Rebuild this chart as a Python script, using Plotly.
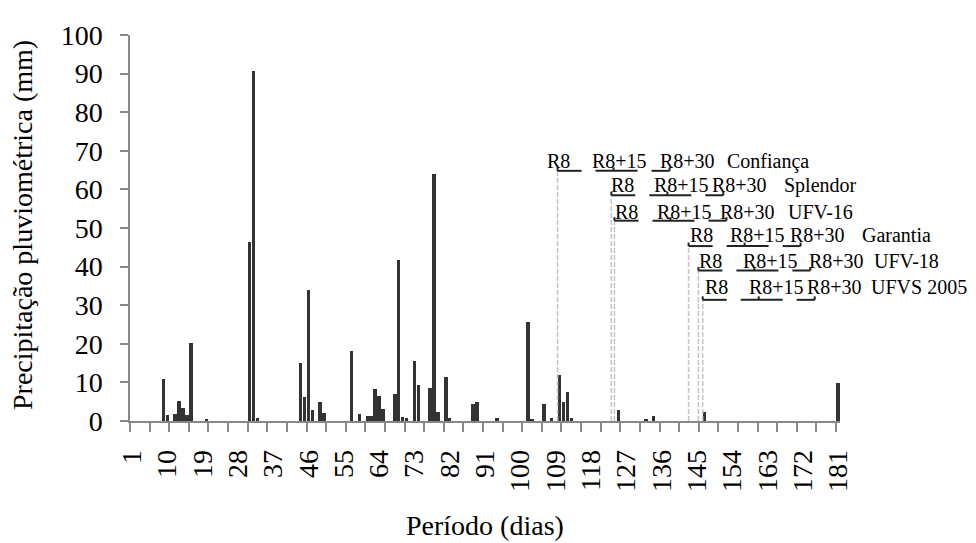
import plotly.graph_objects as go

# ---------------- data ----------------
rain_day = [9, 10, 12, 13, 14, 15, 16, 20, 31, 32, 33, 44, 45, 46, 47, 49, 50,
            57, 59, 61, 62, 63, 64, 65, 68, 69, 70, 71, 73, 74, 77, 78, 79, 81, 82,
            88, 89, 94, 102, 103, 106, 108, 110, 111, 112, 113, 125, 132, 134, 147, 181]
rain_mm = [11.0, 1.6, 1.7, 5.3, 3.4, 1.5, 20.3, 0.4, 46.3, 90.6, 0.9, 14.9, 6.3, 34.0, 2.8, 5.0, 2.2,
           18.2, 1.7, 1.4, 1.4, 8.2, 6.6, 3.2, 7.0, 41.6, 1.0, 0.7, 15.6, 9.2, 8.6, 64.1, 2.4, 11.4, 0.9,
           4.5, 4.8, 0.7, 25.6, 0.3, 4.4, 0.7, 12.0, 5.0, 7.6, 0.7, 2.8, 0.6, 1.3, 2.3, 9.9]

tick_days = [1, 10, 19, 28, 37, 46, 55, 64, 73, 82, 91, 100, 109, 118, 127, 136, 145, 154, 163, 172, 181]
tick_labels = ["1", "10", "19", "28", "37", "46", "55", "64", "73", "82", "91", "100",
               "109", "118", "127", "136", "145", "154", "163", "172", "181"]

cultivars = ["Confiança", "Splendor", "UFV-16", "Garantia", "UFV-18", "UFVS 2005"]
r8_day = [109.5, 123.2, 124.0, 142.9, 145.4, 146.5]
stage_labels = ["R8", "R8+15", "R8+30"]

# ---------------- layout constants ----------------
# the page body adds an 8px margin, so the figure is drawn 8px in from the corner
BODY = 8
W, H = 976, 543
PLOT_L, PLOT_R, PLOT_T, PLOT_B = 130, 840, 26, 421   # target plot box in the screenshot
ML, MT = PLOT_L - BODY, PLOT_T - BODY
MR, MB = W - (PLOT_R - BODY), H - (PLOT_B - BODY)
X_RANGE = [0.5, 181.5]
Y_RANGE = [0, 100]
PX_DAY = (PLOT_R - PLOT_L) / (X_RANGE[1] - X_RANGE[0])
PX_MM = (PLOT_B - PLOT_T) / (Y_RANGE[1] - Y_RANGE[0])
FONT = "Liberation Serif"


def y_of_px(py):
    # py: pixel row in the screenshot
    return (PLOT_B - py) / PX_MM


def dx(px):
    return px / PX_DAY


def xpaper(day):
    return (day - X_RANGE[0]) / (X_RANGE[1] - X_RANGE[0])


def ypaper(val):
    return (val - Y_RANGE[0]) / (Y_RANGE[1] - Y_RANGE[0])


# per-row layout (pixels): text centre y, bracket y, text x offsets from R8 line
row_text_py = [155, 180, 207, 231, 257, 284]
row_brk_py = [165, 190, 216, 242, 267, 297]
row_text_off = [[-13, 32, 100, 167], [-2, 41, 99, 171], [-1, 41, 104, 172],
                [-1, 39, 99, 171], [-1, 43, 109, 174], [0, 44, 102, 166]]
brk_segments = [(0, 24), (38, 80), (94, 112)]
brk_ticks = [0, 56, 112]

fig = go.Figure()
fig.add_trace(go.Bar(x=rain_day, y=rain_mm, width=0.9,
                     marker=dict(color="#333333", line=dict(width=0)),
                     showlegend=False, hoverinfo="x+y"))

shapes = []
annotations = []
for i, name in enumerate(cultivars):
    x0 = r8_day[i]
    yb = y_of_px(row_brk_py[i])
    yt = y_of_px(row_text_py[i])
    shapes.append(dict(type="line", xref="x", yref="y", x0=x0, x1=x0, y0=0, y1=yb,
                       line=dict(color="#c4c4c4", width=1.5, dash="5px,2px"), layer="above"))
    for a, b in brk_segments:
        shapes.append(dict(type="line", xref="x", yref="y", x0=x0 + dx(a), x1=x0 + dx(b),
                           y0=yb, y1=yb, line=dict(color="#222222", width=2)))
    for t in brk_ticks:
        shapes.append(dict(type="line", xref="x", yref="y", x0=x0 + dx(t), x1=x0 + dx(t),
                           y0=yb, y1=yb + 0.9, line=dict(color="#222222", width=2)))
    texts = stage_labels + [name]
    for j, txt in enumerate(texts):
        annotations.append(dict(text=txt, xref="paper", yref="paper",
                                x=xpaper(x0 + dx(row_text_off[i][j])), y=ypaper(yt),
                                xanchor="left", yanchor="middle", showarrow=False,
                                font=dict(family=FONT, size=20, color="black")))

annotations.append(dict(text="Precipitação pluviométrica (mm)", xref="paper", yref="paper",
                        x=0, y=0.5, xshift=-108, yshift=3, textangle=-90, showarrow=False,
                        xanchor="center", yanchor="middle",
                        font=dict(family=FONT, size=28, color="black")))
annotations.append(dict(text="Período (dias)", xref="paper", yref="paper",
                        x=0.5, y=0, yshift=-104, showarrow=False,
                        xanchor="center", yanchor="middle",
                        font=dict(family=FONT, size=28, color="black")))

fig.update_layout(
    width=W, height=H, autosize=False,
    margin=dict(l=ML, r=MR, t=MT, b=MB, pad=0),
    paper_bgcolor="white", plot_bgcolor="white",
    showlegend=False, bargap=0,
    shapes=shapes, annotations=annotations,
    xaxis=dict(range=X_RANGE, tickmode="array", tickvals=tick_days, ticktext=tick_labels,
               tickangle=-90, ticks="outside", ticklen=9, tickcolor="rgba(0,0,0,0)",
               minor=dict(tick0=0.5, dtick=5, ticks="outside", ticklen=9,
                          tickcolor="#888888", tickwidth=1.5, showgrid=False),
               showline=True, linecolor="#888888", linewidth=1.5,
               showgrid=False, zeroline=False, ticklabelstandoff=7,
               tickfont=dict(family=FONT, size=28, color="black")),
    yaxis=dict(range=Y_RANGE, tickmode="linear", tick0=0, dtick=10,
               ticks="outside", ticklen=8, tickcolor="#888888", tickwidth=1.5,
               showline=True, linecolor="#888888", linewidth=1.5,
               showgrid=False, zeroline=False, ticklabelstandoff=12,
               tickfont=dict(family=FONT, size=28, color="black")),
)

fig.write_html("out.html")
